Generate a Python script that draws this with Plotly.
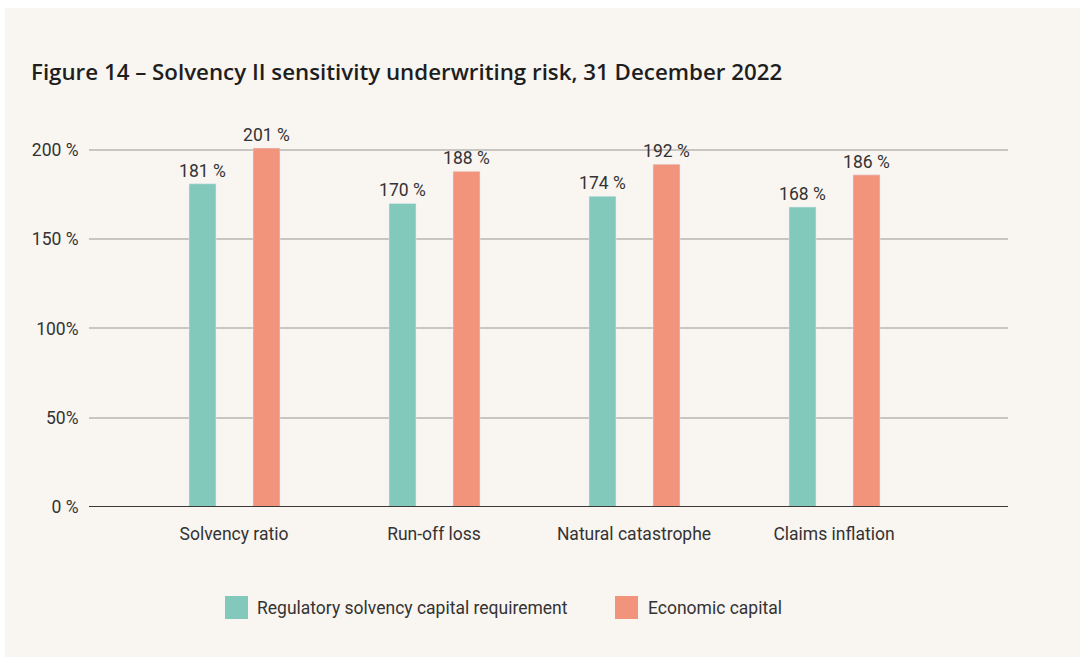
import plotly.graph_objects as go

categories = ["Solvency ratio", "Run-off loss", "Natural catastrophe", "Claims inflation"]
regulatory = [181, 170, 174, 168]
economic = [201, 188, 192, 186]
series_names = ["Regulatory solvency capital requirement", "Economic capital"]
ytick_vals = [0, 50, 100, 150, 200]
ytick_text = ["0 %", "50%", "100%", "150 %", "200 %"]

TEAL = "#82c9bc"
SALMON = "#f2947b"
BG = "#f9f5f1"
TXT = "#333333"
FONT = "Roboto"
FS = 17.5

xpos = list(range(len(categories)))

fig = go.Figure()
fig.add_trace(go.Bar(
    x=xpos, y=regulatory, name=series_names[0], marker_color=TEAL,
    width=0.135, offset=-0.225,
    text=[f"{v} %" for v in regulatory], textposition="outside", constraintext="none",
    textfont=dict(size=FS, color=TXT, family=FONT), cliponaxis=False,
))
fig.add_trace(go.Bar(
    x=xpos, y=economic, name=series_names[1], marker_color=SALMON,
    width=0.135, offset=0.095,
    text=[f"{v} %" for v in economic], textposition="outside", constraintext="none",
    textfont=dict(size=FS, color=TXT, family=FONT), cliponaxis=False,
))

W, H = 1080, 657
L, R, T, B = 89, 72, 132, 150
pw = W - L - R
ph = H - T - B

fig.update_layout(
    width=W, height=H,
    margin=dict(l=L, r=R, t=T, b=B),
    paper_bgcolor="white",
    plot_bgcolor=BG,
    showlegend=False,
    font=dict(family=FONT, color=TXT, size=FS),
    title=dict(
        text="Figure 14 – Solvency II sensitivity underwriting risk, 31 December 2022",
        xref="container", yref="container", x=31 / W, y=1 - 72 / H,
        xanchor="left", yanchor="middle",
        font=dict(size=22.3, color="#1e1e1e", family="Open Sans", weight=600),
    ),
    xaxis=dict(
        range=[-0.725, 3.87], tickvals=xpos, ticktext=categories,
        showgrid=False, zeroline=False, showline=False,
        ticks="outside", ticklen=11, tickcolor="rgba(0,0,0,0)",
        tickfont=dict(size=FS, color=TXT),
    ),
    yaxis=dict(
        range=[0, 210], tickvals=ytick_vals, ticktext=ytick_text,
        showgrid=True, gridcolor="#c9c5c1", gridwidth=1.5,
        zeroline=False, showline=False,
        ticks="outside", ticklen=6, tickcolor="rgba(0,0,0,0)",
        tickfont=dict(size=FS, color=TXT),
    ),
)

# panel background
fig.add_shape(type="rect", xref="paper", yref="paper", layer="below",
              x0=(5 - L) / pw, x1=(W - L) / pw,
              y0=-B / ph, y1=(H - 8 - B) / ph,
              fillcolor=BG, line_width=0)
# baseline
fig.add_shape(type="line", xref="paper", yref="y", x0=0, x1=1, y0=0, y1=0,
              line=dict(color="#3a3a3a", width=2), layer="above")

# legend (custom)
leg_cy = 607.5
leg_y = (H - leg_cy - B) / ph
for x_sq, x_txt, name, col in [(225, 256, series_names[0], TEAL), (615, 647, series_names[1], SALMON)]:
    fig.add_shape(type="rect", xref="paper", yref="paper",
                  x0=(x_sq - L) / pw, x1=(x_sq + 23 - L) / pw,
                  y0=leg_y - 11.5 / ph, y1=leg_y + 11.5 / ph,
                  fillcolor=col, line_width=0)
    fig.add_annotation(xref="paper", yref="paper", x=(x_txt - L) / pw, y=leg_y,
                       text=name, showarrow=False, xanchor="left", yanchor="middle",
                       xshift=-1, font=dict(size=FS, color=TXT, family=FONT))

fig.write_html("out.html")
